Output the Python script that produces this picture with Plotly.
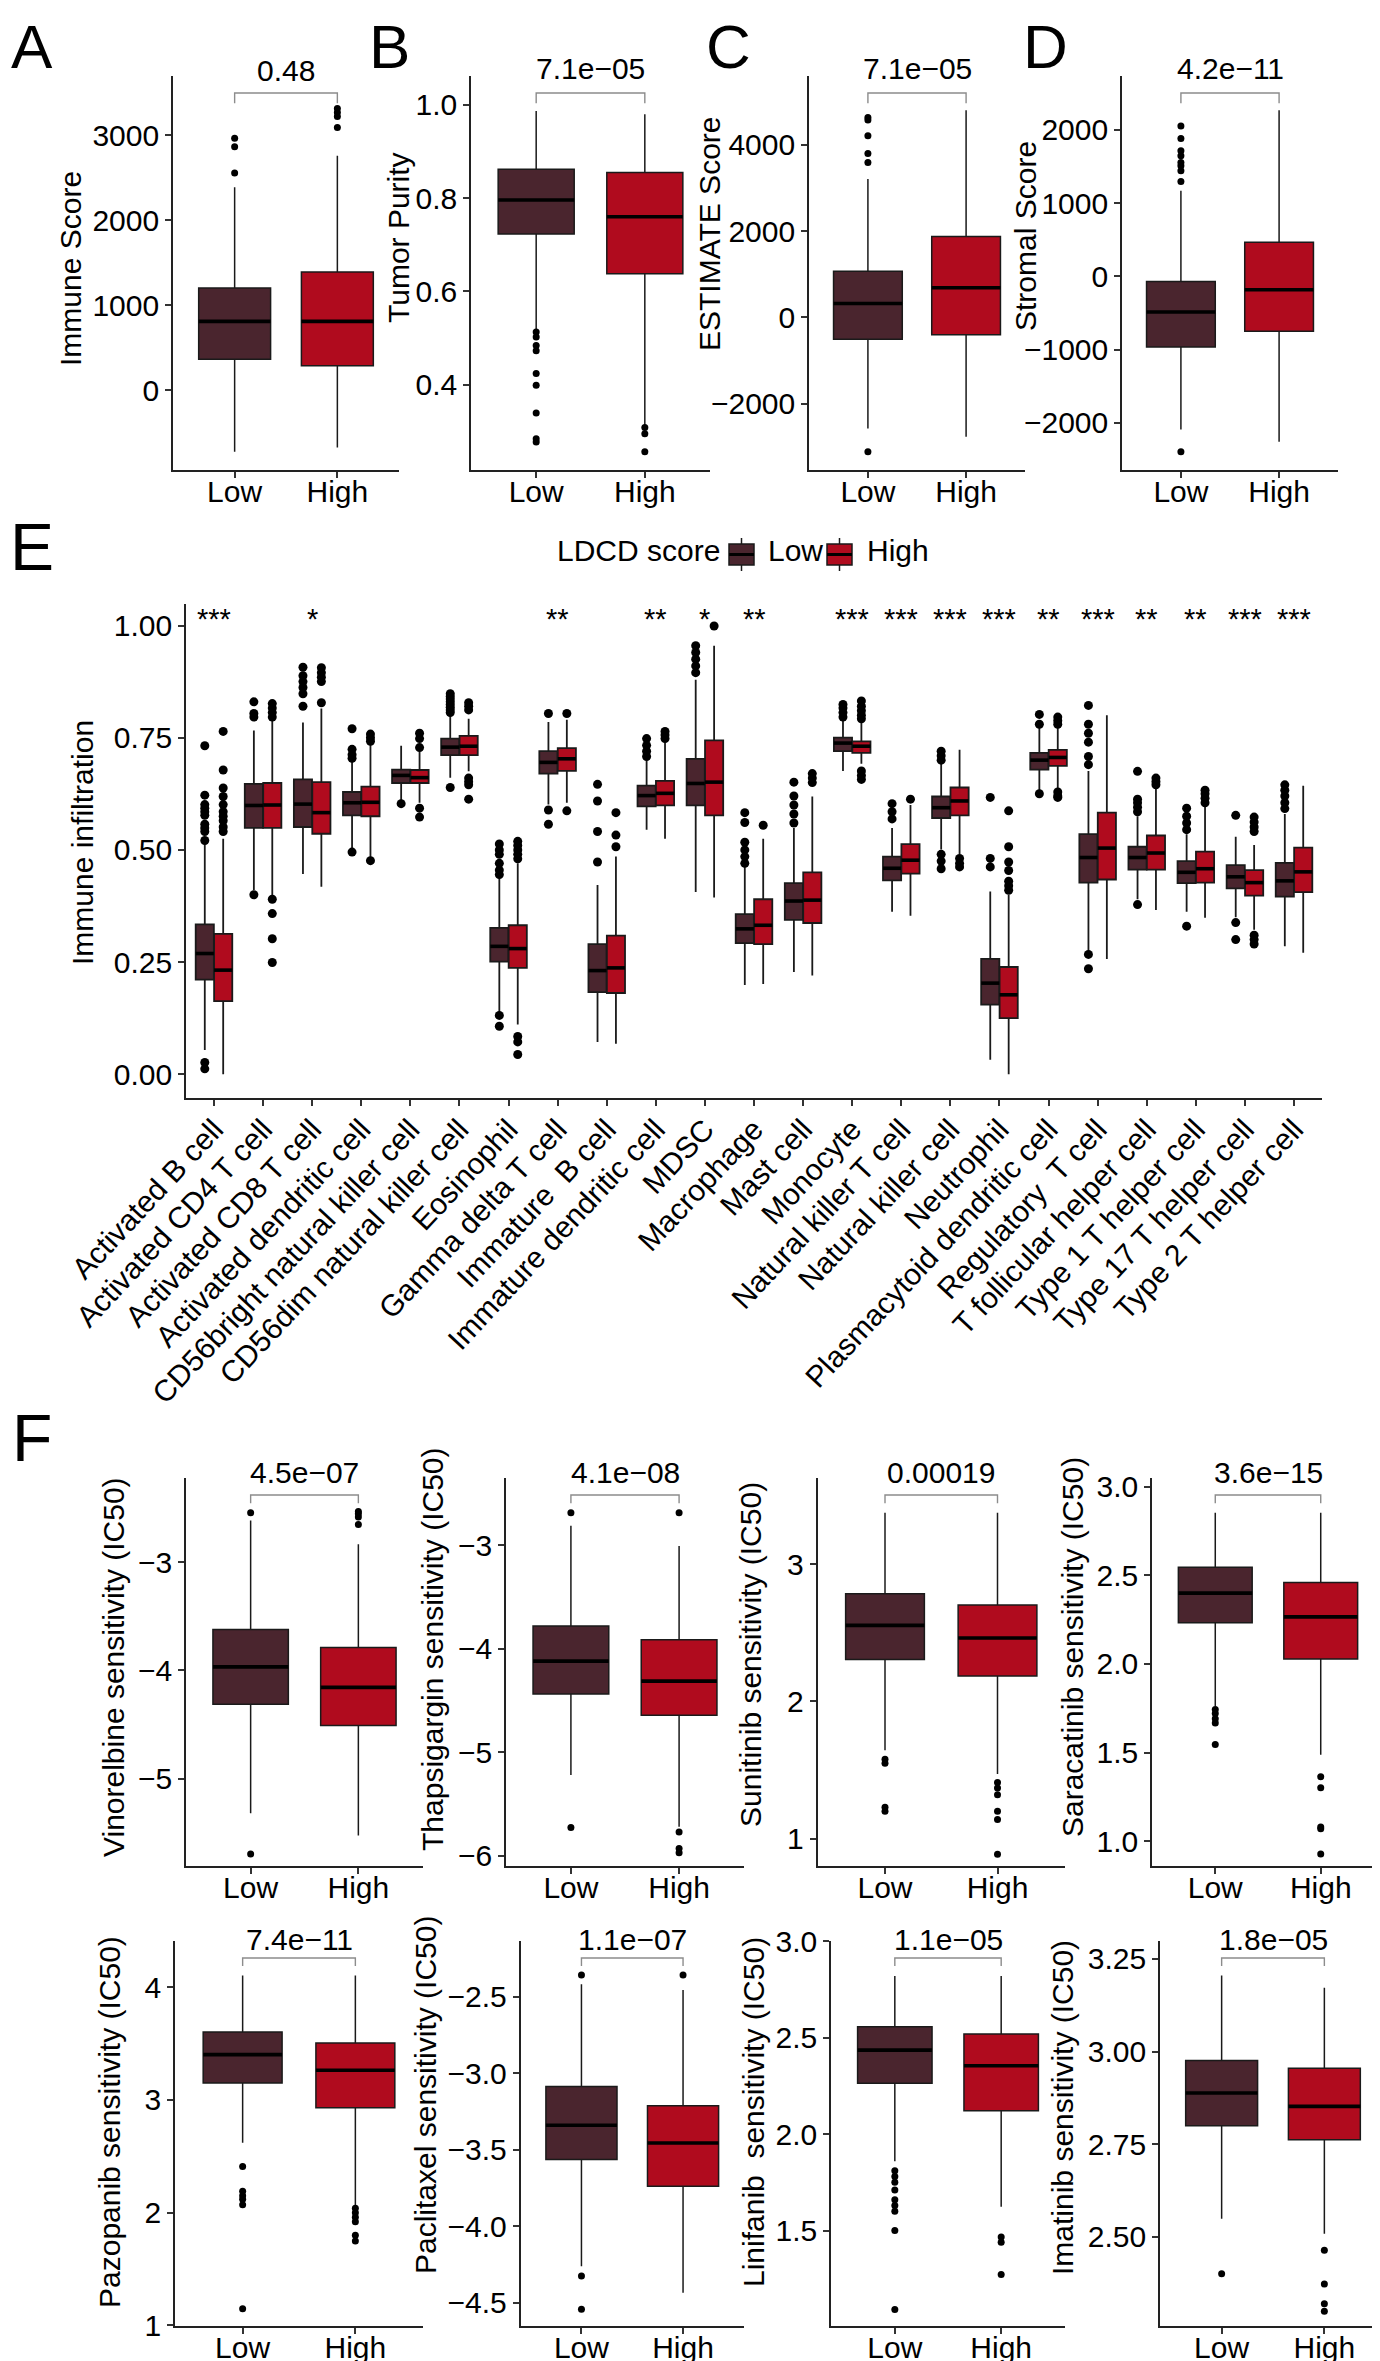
import plotly.graph_objects as go

W, H = 1380, 2361
FONT = "Liberation Sans, Arial, Helvetica, sans-serif"
LOW_COLOR = "#4A252E"
HIGH_COLOR = "#B00B1E"
MINUS = "\u2212"

groups = ["Low", "High"]

# ---------------- Panels A-D: stats as [lower whisker, q1, median, q3, upper whisker]
immune_low = [-724, 364, 810, 1201, 2386]
immune_low_out = [2554, 2863, 2965]
immune_high = [-673, 286, 810, 1389, 2757]
immune_high_out = [3090, 3219, 3266, 3313]

purity_low = [0.516, 0.723, 0.796, 0.862, 0.987]
purity_low_out = [0.513, 0.502, 0.484, 0.473, 0.424, 0.399, 0.339, 0.284, 0.277]
purity_high = [0.313, 0.638, 0.760, 0.855, 0.980]
purity_high_out = [0.308, 0.295, 0.256]

estimate_low = [-2578, -511, 321, 1069, 3206]
estimate_low_out = [4632, 4578, 4208, 3799, 3591, -3118]
estimate_high = [-2771, -404, 684, 1871, 4802]
estimate_high_out = []

stromal_low = [-2091, -965, -488, -70, 1169]
stromal_low_out = [2054, 1882, 1714, 1646, 1555, 1510, 1442, 1296, -2395]
stromal_high = [-2259, -751, -184, 465, 2268]
stromal_high_out = []

# ---------------- Panel F: drug sensitivity (IC50)
vinorelbine_low = [-5.321, -4.313, -3.967, -3.620, -2.613]
vinorelbine_low_out = [-2.540, -5.699]
vinorelbine_high = [-5.526, -4.509, -4.156, -3.787, -2.833]
vinorelbine_high_out = [-2.528, -2.550, -2.580, -2.650]

thapsigargin_low = [-5.221, -4.439, -4.121, -3.782, -2.813]
thapsigargin_low_out = [-2.688, -5.727]
thapsigargin_high = [-5.720, -4.643, -4.314, -3.914, -3.010]
thapsigargin_high_out = [-2.688, -5.770, -5.930, -5.970]

sunitinib_low = [1.644, 2.306, 2.554, 2.784, 3.374]
sunitinib_low_out = [1.58, 1.55, 1.23, 1.20]
sunitinib_high = [1.471, 2.185, 2.462, 2.703, 3.374]
sunitinib_high_out = [1.41, 1.37, 1.32, 1.20, 1.14, 0.888]

saracatinib_low = [1.762, 2.232, 2.399, 2.545, 2.852]
saracatinib_low_out = [1.743, 1.72, 1.69, 1.666, 1.545]
saracatinib_high = [1.488, 2.027, 2.265, 2.459, 2.852]
saracatinib_high_out = [1.363, 1.301, 1.08, 1.07, 0.927]

pazopanib_low = [2.621, 3.151, 3.402, 3.602, 4.103]
pazopanib_low_out = [2.409, 2.19, 2.15, 2.12, 2.07, 1.147]
pazopanib_high = [2.062, 2.930, 3.263, 3.505, 4.103]
pazopanib_high_out = [2.04, 2.00, 1.96, 1.92, 1.80, 1.75]

paclitaxel_low = [-4.261, -3.565, -3.341, -3.087, -2.420]
paclitaxel_low_out = [-2.359, -4.326, -4.543]
paclitaxel_high = [-4.435, -3.739, -3.457, -3.213, -2.457]
paclitaxel_high_out = [-2.359]

linifanib_low = [1.859, 2.264, 2.436, 2.557, 2.821]
linifanib_low_out = [1.81, 1.78, 1.75, 1.71, 1.66, 1.63, 1.60, 1.50, 1.09]
linifanib_high = [1.624, 2.121, 2.355, 2.519, 2.821]
linifanib_high_out = [1.466, 1.44, 1.272]

imatinib_low = [2.549, 2.800, 2.888, 2.976, 3.205]
imatinib_low_out = [2.401]
imatinib_high = [2.509, 2.762, 2.852, 2.955, 3.172]
imatinib_high_out = [2.464, 2.373, 2.32, 2.30]

p_values = ["0.48", "7.1e" + MINUS + "05", "7.1e" + MINUS + "05", "4.2e" + MINUS + "11",
            "4.5e" + MINUS + "07", "4.1e" + MINUS + "08", "0.00019", "3.6e" + MINUS + "15",
            "7.4e" + MINUS + "11", "1.1e" + MINUS + "07", "1.1e" + MINUS + "05", "1.8e" + MINUS + "05"]

# ---------------- Panel E: immune infiltration
cell_types = ["Activated B cell", "Activated CD4 T cell", "Activated CD8 T cell",
              "Activated dendritic cell", "CD56bright natural killer cell",
              "CD56dim natural killer cell", "Eosinophil", "Gamma delta T cell",
              "Immature\u00a0 B cell", "Immature dendritic cell", "MDSC", "Macrophage",
              "Mast cell", "Monocyte", "Natural killer T cell", "Natural killer cell",
              "Neutrophil", "Plasmacytoid dendritic cell", "Regulatory\u00a0 T cell",
              "T follicular helper cell", "Type 1 T helper cell", "Type 17 T helper cell",
              "Type 2 T helper cell"]
significance = ["***", "", "*", "", "", "", "", "**", "", "**", "*", "**", "", "***",
                "***", "***", "***", "**", "***", "**", "**", "***", "***"]

E_low_lo = [.054, .410, .446, .497, .605, .661, .135, .601, .072, .545, .406, .199, .228,
            .676, .362, .501, .032, .629, .271, .390, .362, .350, .285]
E_low_q1 = [.211, .549, .551, .577, .649, .711, .251, .670, .183, .597, .599, .292, .344,
            .720, .432, .571, .155, .679, .427, .456, .426, .414, .396]
E_low_med = [.269, .599, .602, .605, .666, .729, .285, .695, .231, .621, .648, .324, .386,
             .738, .459, .594, .203, .700, .483, .483, .450, .440, .431]
E_low_q3 = [.334, .647, .657, .629, .679, .748, .326, .720, .290, .643, .703, .357, .426,
            .750, .485, .619, .257, .716, .535, .507, .475, .466, .471]
E_low_hi = [.513, .766, .784, .700, .732, .800, .438, .785, .422, .700, .879, .462, .549,
            .788, .549, .692, .407, .772, .676, .575, .535, .529, .580]
E_low_out = [
    [.521, .541, .549, .557, .577, .585, .593, .601, .622, .732, .026, .012],
    [.796, .804, .830, .400],
    [.820, .848, .862, .875, .888, .907],
    [.704, .712, .724, .770, .495],
    [.603],
    [.806, .812, .818, .824, .830, .836, .842, .848, .639],
    [.445, .455, .470, .490, .500, .513, .131, .107],
    [.804, .589, .557],
    [.473, .541, .609, .646],
    [.708, .720, .733, .748],
    [.895, .910, .925, .940, .955],
    [.470, .485, .500, .517, .561, .583],
    [.560, .580, .600, .620, .651],
    [.796, .806, .816, .824],
    [.569, .585, .603],
    [.700, .710, .720, .490, .475, .458],
    [.462, .481, .617],
    [.780, .802, .625],
    [.690, .708, .740, .760, .780, .822, .267, .235],
    [.585, .595, .605, .613, .675, .378],
    [.545, .560, .575, .593, .330],
    [.577, .338, .300],
    [.592, .605, .620, .633, .645],
]

E_high_lo = [.000, .398, .418, .477, .605, .675, .111, .605, .068, .525, .394, .201, .220,
             .692, .353, .490, .000, .635, .257, .366, .349, .322, .271]
E_high_q1 = [.163, .549, .536, .575, .649, .711, .237, .676, .181, .599, .577, .290, .337,
             .716, .447, .577, .125, .687, .434, .456, .427, .398, .406]
E_high_med = [.232, .600, .583, .606, .661, .731, .280, .703, .237, .626, .651, .332, .388,
              .731, .477, .609, .177, .706, .504, .493, .458, .427, .451]
E_high_q3 = [.313, .649, .651, .641, .678, .754, .332, .727, .309, .654, .744, .390, .450,
             .742, .513, .639, .239, .723, .583, .532, .496, .455, .505]
E_high_hi = [.525, .790, .815, .735, .720, .792, .470, .790, .485, .740, .955, .525, .619,
             .784, .600, .723, .400, .775, .800, .640, .600, .511, .643]
E_high_out = [
    [.541, .551, .565, .575, .585, .601, .619, .638, .678, .764],
    [.796, .806, .816, .826, .390, .358, .302, .249],
    [.828, .875, .885, .895, .906],
    [.742, .750, .758, .476],
    [.728, .748, .760, .593, .573],
    [.812, .820, .828, .660, .652, .645, .613],
    [.480, .490, .500, .510, .519, .084, .072, .044],
    [.804, .587],
    [.507, .533, .583],
    [.748, .756, .764],
    [.999],
    [.555],
    [.650, .660, .670],
    [.792, .800, .810, .820, .832, .676, .666, .657],
    [.613],
    [.481, .470, .462],
    [.410, .420, .430, .454, .473, .507, .587],
    [.780, .788, .796, .629, .620, .617],
    [],
    [.645, .652, .660],
    [.605, .615, .625, .633],
    [.541, .551, .562, .573, .310, .300, .290],
    [],
]

# ---------------- layout helpers
fig = go.Figure()
layout = {}
annotations = []
shapes = []
TITLE_SHIFT = -9


def px2x(x):
    return x / W


def px2y(y):
    return 1 - y / H


def axnames(n):
    return ("x" if n == 1 else f"x{n}"), ("y" if n == 1 else f"y{n}")


def setup_axes(n, xpx, ypx, yrange, yticks, yticktext, xrange, xtickvals, xticktext,
               xangle=0, xfont=30, xstandoff=-12):
    xr, yr = axnames(n)
    common = dict(showline=True, linecolor="#222222", linewidth=1.6, ticks="outside",
                  ticklen=6, tickwidth=1.6, tickcolor="#333333", showgrid=False,
                  zeroline=False, automargin=False, fixedrange=True)
    layout["xaxis" if n == 1 else f"xaxis{n}"] = dict(
        domain=[px2x(xpx[0]), px2x(xpx[1])], anchor=yr, range=xrange,
        tickmode="array", tickvals=xtickvals, ticktext=xticktext, tickangle=xangle,
        ticklabelstandoff=xstandoff,
        tickfont=dict(size=xfont, color="black", family=FONT), **common)
    layout["yaxis" if n == 1 else f"yaxis{n}"] = dict(
        domain=[px2y(ypx[1]), px2y(ypx[0])], anchor=xr, range=yrange,
        tickmode="array", tickvals=yticks, ticktext=yticktext,
        tickfont=dict(size=30, color="black", family=FONT), **common)


def add_box(n, pos, lo, q1, med, q3, hi, outs, color, width, msize, lw=1.5):
    xr, yr = axnames(n)
    fig.add_trace(go.Box(
        x=pos, lowerfence=lo, q1=q1, median=med, q3=q3, upperfence=hi,
        orientation="v", width=width, fillcolor=color, whiskerwidth=0,
        line=dict(color="#1a1a1a", width=lw), boxpoints=False,
        xaxis=xr, yaxis=yr, showlegend=False, hoverinfo="skip"))
    mx, my = [], []
    for p, m in zip(pos, med):
        mx += [p - width / 2, p + width / 2, None]
        my += [m, m, None]
    fig.add_trace(go.Scatter(x=mx, y=my, mode="lines", line=dict(color="black", width=3.6),
                             xaxis=xr, yaxis=yr, showlegend=False, hoverinfo="skip"))
    ox, oy = [], []
    for p, o in zip(pos, outs):
        ox += [p] * len(o)
        oy += list(o)
    if ox:
        fig.add_trace(go.Scatter(x=ox, y=oy, mode="markers",
                                 marker=dict(color="black", size=msize, line=dict(width=0)),
                                 xaxis=xr, yaxis=yr, showlegend=False, hoverinfo="skip",
                                 cliponaxis=False))


def ytitle(text, x, y):
    annotations.append(dict(x=px2x(x + TITLE_SHIFT), y=px2y(y), xref="paper", yref="paper",
                            text=text, textangle=-90, showarrow=False,
                            xanchor="center", yanchor="middle",
                            font=dict(size=30, color="black", family=FONT)))


def two_group_panel(n, xpx, ypx, yrange, yticks, yticktext, low, low_out, high, high_out,
                    title, title_x, title_y, pval, text_y, br_y, br_end):
    setup_axes(n, xpx, ypx, yrange, yticks, yticktext, [0.4, 2.6], [1, 2], groups)
    add_box(n, [1], [low[0]], [low[1]], [low[2]], [low[3]], [low[4]], [low_out],
            LOW_COLOR, 0.7, 7)
    add_box(n, [2], [high[0]], [high[1]], [high[2]], [high[3]], [high[4]], [high_out],
            HIGH_COLOR, 0.7, 7)
    xr, yr = axnames(n)
    shapes.append(dict(type="path", xref=xr, yref=f"{yr} domain",
                       path=f"M 1,{br_end} L 1,{br_y} L 2,{br_y} L 2,{br_end}",
                       line=dict(color="#8c8c8c", width=1.4)))
    annotations.append(dict(x=1.5, y=text_y, xref=xr, yref=f"{yr} domain", text=pval,
                            showarrow=False, xanchor="center", yanchor="middle",
                            font=dict(size=30, color="black", family=FONT)))
    ytitle(title, title_x, title_y)


def fmt(v, d):
    s = f"{v:.{d}f}"
    return s.replace("-", MINUS)


# ---------------- Panels A-D
TOP, BOT = 68, 462
two_group_panel(1, [165, 391], [TOP, BOT], [-939, 3696], [0, 1000, 2000, 3000],
                [fmt(v, 0) for v in [0, 1000, 2000, 3000]], immune_low, immune_low_out,
                immune_high, immune_high_out, "Immune Score", 71, 261, p_values[0], 1.015, 0.957, 0.931)
two_group_panel(2, [463, 702], [TOP, BOT], [0.217, 1.062], [0.4, 0.6, 0.8, 1.0],
                [fmt(v, 1) for v in [0.4, 0.6, 0.8, 1.0]], purity_low, purity_low_out,
                purity_high, purity_high_out, "Tumor Purity", 400, 230, p_values[1], 1.02, 0.957, 0.931)
two_group_panel(3, [801, 1017], [TOP, BOT], [-3542, 5596], [-2000, 0, 2000, 4000],
                [fmt(v, 0) for v in [-2000, 0, 2000, 4000]], estimate_low, estimate_low_out,
                estimate_high, estimate_high_out, "ESTIMATE Score", 710, 226, p_values[2], 1.02, 0.957, 0.931)
two_group_panel(4, [1114, 1330], [TOP, BOT], [-2645, 2736], [-2000, -1000, 0, 1000, 2000],
                [fmt(v, 0) for v in [-2000, -1000, 0, 1000, 2000]], stromal_low, stromal_low_out,
                stromal_high, stromal_high_out, "Stromal Score", 1026, 228, p_values[3], 1.02, 0.957, 0.931)

# ---------------- Panel E
n = 5
setup_axes(n, [178, 1314], [596, 1090], [-0.053, 1.048], [0, 0.25, 0.5, 0.75, 1.0],
           [fmt(v, 2) for v in [0, 0.25, 0.5, 0.75, 1.0]], [0.43, len(cell_types) + 0.57],
           list(range(1, len(cell_types) + 1)), cell_types, xangle=-47, xfont=30, xstandoff=-6)
low_pos = [i + 1 - 0.1875 for i in range(len(cell_types))]
high_pos = [i + 1 + 0.1875 for i in range(len(cell_types))]
add_box(n, low_pos, E_low_lo, E_low_q1, E_low_med, E_low_q3, E_low_hi, E_low_out,
        LOW_COLOR, 0.37, 9, lw=1.8)
add_box(n, high_pos, E_high_lo, E_high_q1, E_high_med, E_high_q3, E_high_hi, E_high_out,
        HIGH_COLOR, 0.37, 9, lw=1.8)
for i, s in enumerate(significance):
    if s:
        annotations.append(dict(x=i + 1, y=1.015, xref="x5", yref="y5", text=s,
                                showarrow=False, xanchor="center", yanchor="middle",
                                font=dict(size=29, color="black", family=FONT)))
ytitle("Immune infiltration", 83, 835)

# legend (LDCD score)
LEG_Y = 542
annotations.append(dict(x=px2x(547), y=px2y(LEG_Y), xref="paper", yref="paper",
                        text="LDCD score", showarrow=False, xanchor="left", yanchor="middle",
                        font=dict(size=30, color="black", family=FONT)))
for kx, col, lab, tx in [(721, LOW_COLOR, "Low", 758), (819, HIGH_COLOR, "High", 857)]:
    cx = kx + 12.5
    shapes.append(dict(type="line", xref="paper", yref="paper", x0=px2x(cx), x1=px2x(cx),
                       y0=px2y(530), y1=px2y(563), line=dict(color="#1a1a1a", width=1.5)))
    shapes.append(dict(type="rect", xref="paper", yref="paper", x0=px2x(kx), x1=px2x(kx + 25),
                       y0=px2y(536), y1=px2y(557), fillcolor=col,
                       line=dict(color="#1a1a1a", width=1.5)))
    shapes.append(dict(type="line", xref="paper", yref="paper", x0=px2x(kx), x1=px2x(kx + 25),
                       y0=px2y(546.5), y1=px2y(546.5), line=dict(color="black", width=3)))
    annotations.append(dict(x=px2x(tx), y=px2y(LEG_Y), xref="paper", yref="paper", text=lab,
                            showarrow=False, xanchor="left", yanchor="middle",
                            font=dict(size=30, color="black", family=FONT)))

# ---------------- Panel F
R1, R2 = [1470, 1858], [1933, 2318]
two_group_panel(6, [178, 415], R1, [-5.809, -2.219], [-5, -4, -3], [fmt(v, 0) for v in [-5, -4, -3]],
                vinorelbine_low, vinorelbine_low_out, vinorelbine_high, vinorelbine_high_out,
                "Vinorelbine sensitivity (IC50)", 115, 1659, p_values[4], 1.015, 0.956, 0.935)
two_group_panel(7, [498, 736], R1, [-6.099, -2.353], [-6, -5, -4, -3],
                [fmt(v, 0) for v in [-6, -5, -4, -3]],
                thapsigargin_low, thapsigargin_low_out, thapsigargin_high, thapsigargin_high_out,
                "Thapsigargin sensitivity (IC50)", 433, 1641, p_values[5], 1.015, 0.956, 0.935)
two_group_panel(8, [809.5, 1057], R1, [0.802, 3.627], [1, 2, 3], ["1", "2", "3"],
                sunitinib_low, sunitinib_low_out, sunitinib_high, sunitinib_high_out,
                "Sunitinib sensitivity (IC50)", 751, 1647, p_values[6], 1.015, 0.956, 0.935)
two_group_panel(9, [1144, 1376], R1, [0.860, 3.048], [1.0, 1.5, 2.0, 2.5, 3.0],
                [fmt(v, 1) for v in [1.0, 1.5, 2.0, 2.5, 3.0]],
                saracatinib_low, saracatinib_low_out, saracatinib_high, saracatinib_high_out,
                "Saracatinib sensitivity (IC50)", 1073, 1639, p_values[7], 1.015, 0.956, 0.935)
two_group_panel(10, [167, 415], R2, [0.995, 4.41], [1, 2, 3, 4], ["1", "2", "3", "4"],
                pazopanib_low, pazopanib_low_out, pazopanib_high, pazopanib_high_out,
                "Pazopanib sensitivity (IC50)", 110, 2114, p_values[8], 1.005, 0.956, 0.935)
two_group_panel(11, [512.5, 736], R2, [-4.652, -2.137], [-4.5, -4.0, -3.5, -3.0, -2.5],
                [fmt(v, 1) for v in [-4.5, -4.0, -3.5, -3.0, -2.5]],
                paclitaxel_low, paclitaxel_low_out, paclitaxel_high, paclitaxel_high_out,
                "Paclitaxel sensitivity (IC50)", 426, 2087, p_values[9], 1.005, 0.956, 0.935)
two_group_panel(12, [823, 1057], R2, [1.005, 3.002], [1.5, 2.0, 2.5, 3.0],
                [fmt(v, 1) for v in [1.5, 2.0, 2.5, 3.0]],
                linifanib_low, linifanib_low_out, linifanib_high, linifanib_high_out,
                "Linifanib\u00a0 sensitivity (IC50)", 754, 2104, p_values[10], 1.005, 0.956, 0.935)
two_group_panel(13, [1152, 1378], R2, [2.260, 3.298], [2.50, 2.75, 3.00, 3.25],
                [fmt(v, 2) for v in [2.50, 2.75, 3.00, 3.25]],
                imatinib_low, imatinib_low_out, imatinib_high, imatinib_high_out,
                "Imatinib sensitivity (IC50)", 1063, 2100, p_values[11], 1.005, 0.956, 0.935)

# ---------------- panel letters
for letter, lx, ly, fs in [("A", 2, 38, 62), ("B", 360, 38, 62), ("C", 697, 38, 62),
                           ("D", 1014, 38, 62), ("E", 1, 539, 66), ("F", 3, 1430, 66)]:
    annotations.append(dict(x=px2x(lx), y=px2y(ly), xref="paper", yref="paper", text=letter,
                            showarrow=False, xanchor="left", yanchor="middle", borderpad=0,
                            font=dict(size=fs, color="black", family=FONT)))

fig.update_layout(
    width=W, height=H, margin=dict(l=0, r=0, t=0, b=0),
    paper_bgcolor="white", plot_bgcolor="white", boxmode="overlay",
    font=dict(family=FONT, color="black"),
    annotations=annotations, shapes=shapes, showlegend=False, **layout)

fig.write_html("out.html")
